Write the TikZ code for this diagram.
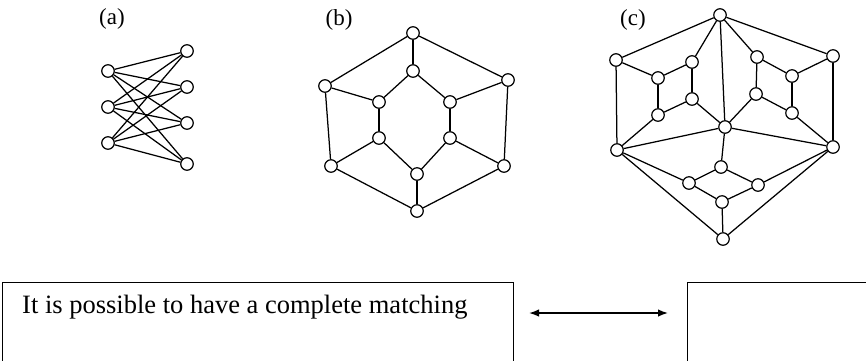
\documentclass[tikz,border=0pt]{standalone}
\usepackage{fontspec}
\setmainfont{Liberation Serif}
\usepackage{tikz}
\usetikzlibrary{arrows.meta, positioning}
\tikzset{
  vert/.style={circle, draw=black, fill=white, minimum size=12.5pt,
    inner sep=0pt, line width=1.2pt},
  edge/.style={line width=1.25pt, color=black},
  tag/.style={font=\fontsize{23}{26}\selectfont},
  box/.style={rectangle, draw=black, line width=1pt, anchor=north west,
    minimum height=120pt, inner sep=0pt},
  arrow/.style={{Latex[length=10pt,width=7.5pt]}-{Latex[length=10pt,width=7.5pt]},
    line width=1.5pt}
}

\begin{document}
\begin{tikzpicture}[x=1pt, y=-1pt]
  \clip (0,0) rectangle (866,360);
  \node[tag] (taga) at (112,19) {(a)};
  \node[tag] (tagb) at (339,20) {(b)};
  \node[tag] (tagc) at (633,20) {(c)};
  % (a)
  \foreach \i/\y in {1/71,2/107,3/143}
    \node[vert] (l\i) at (108,\y) {};
  \foreach \j/\y in {1/51,2/87,3/123,4/164}
    \node[vert] (r\j) at (187,\y) {};
  \foreach \i in {1,2,3}
    \foreach \j in {1,...,4}
      \draw[edge] (l\i) -- (r\j);
  % (b)
  \node[vert] (btop) at (413,33) {};
  \node[vert] (bul)  at (325,86) {};
  \node[vert] (bur)  at (508,80) {};
  \node[vert] (bll)  at (331,166) {};
  \node[vert] (blr)  at (504,166) {};
  \node[vert] (bbot) at (417,211) {};
  \node[vert] (itop) at (413,71) {};
  \node[vert] (iul)  at (379,102) {};
  \node[vert] (iur)  at (450,102) {};
  \node[vert] (ill)  at (379,138) {};
  \node[vert] (ilr)  at (450,138) {};
  \node[vert] (ibot) at (417,174) {};
  \foreach \u/\v in {btop/bul, btop/bur, bul/bll, bur/blr, bll/bbot, blr/bbot,
      btop/itop, bul/iul, bur/iur, bll/ill, blr/ilr, bbot/ibot,
      itop/iul, itop/iur, iul/ill, iur/ilr, ill/ibot, ilr/ibot}
    \draw[edge] (\u) -- (\v);
  % (c)
  \node[vert] (ctop)   at (720,15) {};
  \node[vert] (cul)    at (616,60) {};
  \node[vert] (cur)    at (833,56) {};
  \node[vert] (cmid)   at (725,127) {};
  \node[vert] (cleft)  at (617,150) {};
  \node[vert] (cright) at (833,147) {};
  \node[vert] (cbot)   at (723,239) {};
  \node[vert] (p1) at (692,62) {};
  \node[vert] (p2) at (658,78) {};
  \node[vert] (p3) at (692,99) {};
  \node[vert] (p4) at (658,115) {};
  \node[vert] (q1) at (757,57) {};
  \node[vert] (q2) at (792,76) {};
  \node[vert] (q3) at (756,94) {};
  \node[vert] (q4) at (792,113) {};
  \node[vert] (s1) at (721,167) {};
  \node[vert] (s2) at (689,183) {};
  \node[vert] (s3) at (758,185) {};
  \node[vert] (s4) at (722,202) {};
  \foreach \u/\v in {ctop/cul, ctop/cur, ctop/cmid, ctop/p1, ctop/q1,
      cul/p2, cul/cleft, cur/q2, cur/cright,
      p1/p2, p1/p3, p2/p4, p3/p4, p3/cmid, p4/cleft,
      q1/q2, q1/q3, q2/q4, q3/q4, q3/cmid, q4/cright,
      cmid/cleft, cmid/cright, cmid/s1, s1/s2, s1/s3, s2/s4, s3/s4,
      s2/cleft, s3/cright, s4/cbot, cleft/cbot, cright/cbot}
    \draw[edge] (\u) -- (\v);
  % bottom
  \node[box, minimum width=511pt] (lbox) at (2,282) {};
  \node[box, minimum width=200pt] (rbox) at (687,282) {};
  \node[anchor=base west, inner sep=0pt, font=\fontsize{26.5}{32}\selectfont]
    (ltext) at (22,313) {It is possible to have a complete matching};
  \draw[arrow, shorten <=15pt, shorten >=19pt]
    (lbox.east |- ltext.base) -- (rbox.west |- ltext.base);
\end{tikzpicture}
\end{document}
